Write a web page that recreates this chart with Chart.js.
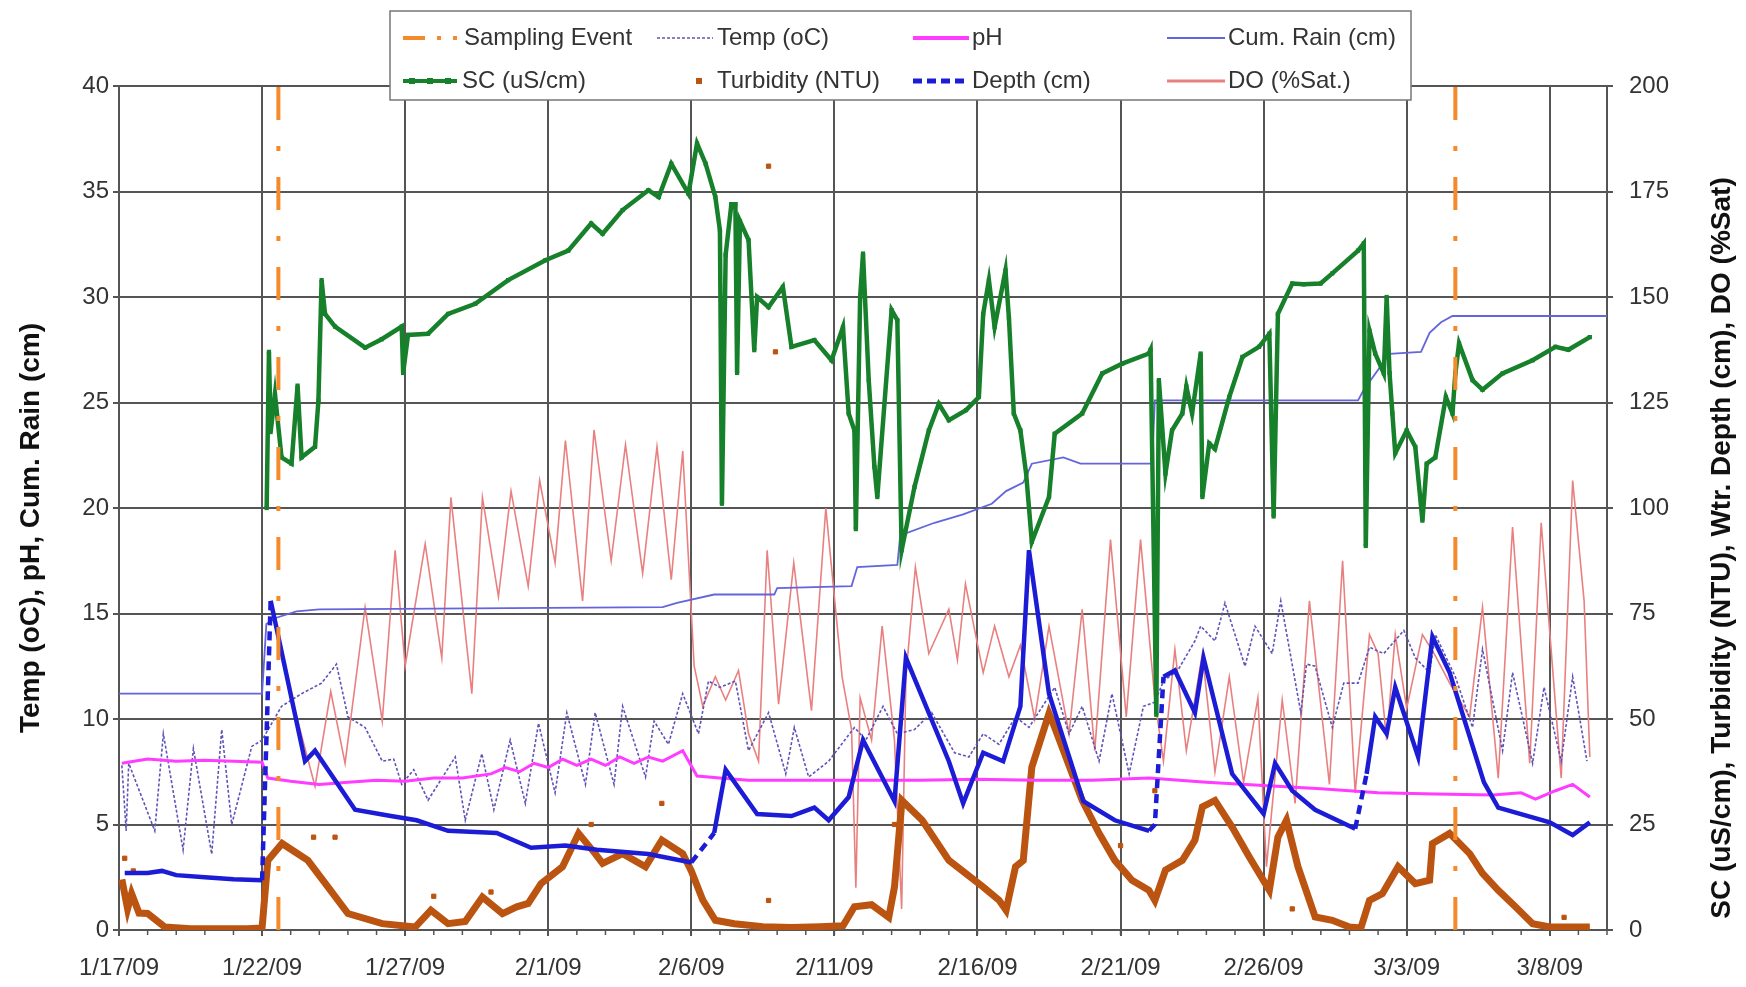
<!DOCTYPE html>
<html>
<head>
<meta charset="utf-8">
<script src="https://cdn.jsdelivr.net/npm/chart.js@4.4.1/dist/chart.umd.min.js"></script>
<style>
  body { margin: 0; background: #fff; }
  canvas { display: block; }
</style>
</head>
<body>
<canvas id="chart" width="1746" height="987"></canvas>
<script>
// days counted from 1/17/09
const tickDays = [0, 5, 10, 15, 20, 25, 30, 35, 40, 45, 50];
const tickLabels = ['1/17/09', '1/22/09', '1/27/09', '2/1/09', '2/6/09', '2/11/09', '2/16/09', '2/21/09', '2/26/09', '3/3/09', '3/8/09'];
const samplingDays = [5.57, 46.7];

// left axis series
const cumRain = [[0,11.2],[5.0,11.2],[5.15,14.5],[5.5,14.8],[6.2,15.1],[7.0,15.2],[19.0,15.3],[19.5,15.5],[20.8,15.9],[22.9,15.9],[23.0,16.2],[25.6,16.3],[25.8,17.2],[27.2,17.3],[27.3,18.7],[28.5,19.3],[29.5,19.7],[30.5,20.2],[31.0,20.8],[31.6,21.2],[31.9,22.1],[33.0,22.4],[33.6,22.1],[36.1,22.1],[36.2,25.1],[43.3,25.1],[43.5,25.6],[44.4,27.3],[45.5,27.4],[45.8,28.3],[46.2,28.8],[46.6,29.1],[52,29.1]];

const pH = [[0.1,7.9],[1.0,8.1],[2.0,8.0],[3.0,8.05],[4.0,8.0],[5.0,7.95],[5.2,7.2],[6.0,7.05],[7.0,6.9],[8.0,7.0],[9.0,7.1],[10.0,7.05],[11.0,7.2],[12.0,7.2],[13.0,7.4],[13.5,7.7],[14.0,7.5],[14.5,7.9],[15.0,7.7],[15.5,8.1],[16.0,7.8],[16.5,8.1],[17.0,7.8],[17.5,8.2],[18.0,7.9],[18.5,8.2],[19.0,8.0],[19.7,8.5],[20.2,7.3],[21.0,7.2],[22.0,7.1],[24.0,7.1],[26.0,7.1],[28.0,7.1],[30.0,7.15],[32.0,7.1],[34.0,7.1],[36.0,7.2],[38.0,7.0],[40.0,6.85],[42.0,6.7],[44.0,6.5],[46.0,6.45],[48.0,6.4],[49.0,6.5],[49.5,6.2],[50.2,6.6],[50.8,6.9],[51.4,6.3]];

const temp = [[0.1,7.8],[0.25,4.7],[0.34,7.9],[1.25,4.7],[1.55,9.3],[2.24,3.8],[2.6,8.6],[3.24,3.6],[3.59,9.5],[3.94,5.0],[4.64,8.7],[5.0,9.0],[5.68,10.6],[6.38,11.2],[7.08,11.7],[7.6,12.6],[8.0,10.1],[8.6,9.6],[9.2,8.0],[9.6,8.1],[9.88,6.9],[10.3,7.6],[10.8,6.15],[11.75,8.2],[12.1,5.2],[12.68,8.36],[13.1,5.7],[13.67,9.0],[14.2,6.0],[14.66,9.8],[15.24,6.5],[15.65,10.3],[16.3,6.9],[16.64,10.3],[17.3,6.9],[17.6,10.6],[18.4,7.25],[18.7,9.9],[19.2,8.8],[19.7,11.2],[20.25,9.3],[20.6,11.8],[21.0,11.5],[21.54,11.8],[22.0,8.5],[22.7,10.3],[23.3,7.4],[23.6,9.6],[24.1,7.25],[24.8,8.0],[25.7,9.6],[26.1,9.0],[26.7,10.6],[27.2,9.3],[27.8,9.5],[28.4,10.3],[29.2,8.4],[29.7,8.2],[30.2,9.3],[30.75,8.8],[31.33,10.1],[31.8,9.6],[32.7,11.5],[33.2,9.3],[33.66,10.6],[34.25,8.0],[34.7,11.2],[35.3,7.4],[35.8,10.6],[36.2,10.8],[36.5,11.8],[37.0,12.3],[37.6,13.7],[37.8,14.4],[38.3,13.7],[38.65,15.5],[39.35,12.5],[39.7,14.4],[40.3,13.1],[40.6,15.6],[41.3,10.3],[41.5,12.6],[41.8,12.5],[42.4,9.6],[42.8,11.7],[43.3,11.7],[43.7,13.4],[44.2,13.1],[44.9,14.2],[45.3,12.9],[45.8,12.2],[46.0,14.0],[46.7,12.0],[47.3,9.6],[47.65,13.3],[48.35,8.5],[48.7,12.2],[49.4,7.9],[49.8,11.5],[50.4,8.0],[50.8,12.0],[51.3,8.0]];

// right axis series
const sc = [[5.16,100],[5.24,137],[5.3,118],[5.45,127],[5.68,112],[6.03,110.5],[6.24,129],[6.38,112],[6.85,114.5],[6.97,125.5],[7.08,154],[7.2,146],[7.55,143],[8.6,138],[9.18,140],[9.88,143],[9.93,132],[10.1,141],[10.8,141.3],[11.5,146],[12.45,148.4],[13.6,154],[14.9,158.7],[15.7,161],[16.5,167.4],[16.9,165],[17.6,170.6],[18.5,175.3],[18.86,173.7],[19.3,181.6],[19.9,174.5],[20.2,186.4],[20.5,181.6],[20.84,173.7],[21.0,165.8],[21.07,101],[21.2,160],[21.4,172],[21.54,172],[21.6,132],[21.7,168],[22.0,163.5],[22.2,137.4],[22.3,150],[22.7,147.6],[23.2,152.4],[23.5,138.2],[24.3,139.8],[24.9,135],[25.3,142.9],[25.5,122.4],[25.7,118.4],[25.75,95],[25.9,150],[26.0,160.3],[26.2,130.3],[26.4,109.7],[26.5,102.6],[27.0,146.9],[27.2,144.5],[27.35,90],[27.8,105],[28.3,118.4],[28.65,124.7],[29.0,120.8],[29.6,123.2],[30.05,126.3],[30.2,146],[30.4,154],[30.6,142.9],[30.98,156.3],[31.1,145],[31.27,122.4],[31.5,118.4],[31.7,108.2],[31.9,92],[32.5,102.6],[32.7,117.6],[33.66,122.4],[34.36,131.9],[35.06,134.2],[35.99,136.6],[36.05,137.5],[36.25,51],[36.34,130.3],[36.57,108.2],[36.8,118.4],[37.16,122.4],[37.3,128.8],[37.5,122.4],[37.8,136.6],[37.86,102.6],[38.1,115.3],[38.3,114],[38.8,126.3],[39.26,135.8],[39.84,138.2],[40.2,141.3],[40.35,98],[40.5,146],[41.0,153.2],[41.4,153],[41.99,153.2],[42.4,155.6],[43.3,161],[43.5,162.7],[43.57,91],[43.7,142],[43.9,136.6],[44.2,131.9],[44.3,150],[44.4,132],[44.5,122.4],[44.6,113],[45.0,118.4],[45.3,114.5],[45.55,97],[45.7,110.5],[46.0,112],[46.37,126.3],[46.6,122.4],[46.7,131.9],[46.83,139],[47.3,130.3],[47.65,128],[48.35,131.9],[49.4,135],[50.2,138.2],[50.65,137.5],[51.4,140.5]];

const turbidity = [[0.1,12],[0.3,5],[0.44,8.6],[0.7,4],[1.0,3.9],[1.6,0.7],[2.5,0.3],[3.5,0.3],[4.5,0.3],[5.0,0.5],[5.2,16.5],[5.7,20.5],[5.9,19.6],[6.6,16.5],[7.3,10.2],[8.0,3.9],[9.2,1.5],[10.35,0.7],[10.9,4.7],[11.5,1.5],[12.1,2],[12.7,7.8],[13.4,3.9],[13.9,5.5],[14.3,6.3],[14.75,11],[15.5,15],[16.06,22.9],[16.64,18.1],[16.9,15.8],[17.6,18.1],[18.4,15],[18.97,21.3],[19.7,18.1],[20.0,14],[20.4,7.1],[20.84,2.3],[21.5,1.5],[22.5,0.8],[23.5,0.6],[24.5,0.8],[25.3,1],[25.7,5.5],[26.3,6],[26.9,3],[27.1,10.2],[27.36,30.7],[28.07,26],[29.0,16.5],[30.2,10.2],[30.75,7.1],[31.0,4.7],[31.33,15],[31.6,16.5],[31.9,38.6],[32.5,51.3],[32.7,48],[33.66,30.7],[34.25,22.9],[34.8,16.5],[35.4,11.8],[35.99,9.4],[36.2,7],[36.57,14.2],[37.16,16.5],[37.6,21.3],[37.86,29.2],[38.3,30.7],[38.9,24.4],[39.5,17.3],[40.2,9.4],[40.5,22],[40.8,26],[41.2,15],[41.8,3.1],[42.4,2.3],[43.0,0.7],[43.4,0.5],[43.7,7],[44.15,8.6],[44.7,15],[45.3,11],[45.8,11.8],[45.9,20.5],[46.5,22.9],[47.2,18.1],[47.65,13.4],[48.2,9.4],[48.8,5.5],[49.4,1.5],[50.0,0.7],[51.4,0.7]];
const turbidityScatter = [[0.2,17],[0.5,14],[6.8,22],[7.55,22],[11.0,8],[13.0,9],[16.5,25],[18.97,30],[22.7,7],[22.7,181],[22.94,137],[27.1,25],[35.0,20],[36.2,33],[41.0,5],[50.5,3]];

const depth = [[0.2,13.5],[1,13.5],[1.5,14],[2.0,13],[3,12.5],[4,12],[5.0,11.8],[5.3,78],[6.5,40],[6.85,42.5],[8.25,28.5],[9.5,27],[10.4,26],[11.5,23.5],[13.2,23],[14.4,19.5],[15.6,20],[16.7,19],[18.5,18],[20.0,16],[20.8,23],[21.2,38],[22.3,27.5],[23.5,27],[24.3,29],[24.8,26],[25.5,31.5],[26.0,45],[27.1,30.5],[27.5,64.5],[29.0,40],[29.5,30],[30.2,42],[30.9,40],[31.5,53],[31.8,90],[32.5,56],[33.7,30.5],[34.8,26],[36.0,23.5],[36.2,25],[36.5,60],[36.9,61.5],[37.6,51.5],[37.9,64.5],[38.9,37],[40.0,27.5],[40.4,39.5],[41.0,33],[41.8,28.5],[43.2,24],[43.6,37],[43.9,50.5],[44.3,46.5],[44.6,57.5],[45.4,41],[45.9,69.5],[46.5,61],[47.7,35],[48.2,29],[50.0,25.5],[50.8,22.5],[51.4,25.5]];
const depthGapStarts = [5.0, 20.0, 36.0, 36.2, 43.2];

const dissolvedO2 = [[5.9,58.5],[6.85,34],[7.4,56.5],[7.9,39.5],[8.6,76.5],[9.2,49.5],[9.65,90],[10.0,62.5],[10.7,91.5],[11.28,64.5],[11.6,102.5],[12.33,56],[12.7,102.5],[13.26,79],[13.7,104],[14.3,81.5],[14.7,106.5],[15.24,87],[15.6,116],[16.2,78],[16.6,118.5],[17.2,87.5],[17.7,115],[18.3,84.5],[18.8,114.5],[19.3,83],[19.7,113.5],[20.1,62.5],[20.4,53],[20.84,60],[21.2,54.5],[21.65,61.5],[22.0,46.5],[22.35,40],[22.65,90],[23.05,53.5],[23.58,87],[24.2,52],[24.7,100],[25.27,60],[25.6,47.5],[25.75,10],[25.9,55],[26.3,45],[26.67,72],[27.1,45],[27.35,5],[27.5,60],[27.83,86],[28.3,65.5],[29.0,76],[29.3,64],[29.58,82],[30.2,61],[30.6,72],[31.1,60],[31.5,67.5],[32.0,50],[32.5,72],[33.2,46.5],[33.66,76],[34.1,42.5],[34.65,92.5],[35.2,50.5],[35.7,92.5],[36.2,54.5],[36.5,40],[36.9,66.5],[37.3,42.5],[37.86,65.5],[38.3,37.5],[38.8,60],[39.3,35],[39.8,55],[40.1,15],[40.65,54.5],[41.1,30],[41.6,78],[42.3,34.5],[42.76,87.5],[43.2,32.5],[43.7,70],[44.0,65.5],[44.3,45],[44.6,70],[45.0,52.5],[45.55,70],[46.0,65],[46.5,58.5],[47.2,50.5],[47.65,76.5],[48.2,36],[48.7,95.5],[49.3,39.5],[49.7,96.5],[50.4,36],[50.8,106.5],[51.2,78],[51.4,41]];

const pts = arr => arr.map(([x, y]) => ({ x, y }));

const samplingPts = [];
samplingDays.forEach(d => {
  samplingPts.push({ x: d, y: 0 }, { x: d, y: 40 }, { x: d, y: null });
});

const FONT = '"Liberation Sans", Arial, sans-serif';
Chart.defaults.font.family = FONT;
Chart.defaults.font.size = 24;
Chart.defaults.color = '#222';

const C = {
  sampling: '#f48a2c',
  temp: '#5e54b8',
  ph: '#ff3cff',
  rain: '#6464dc',
  sc: '#17802b',
  turb: '#bb5410',
  depth: '#1c1cd6',
  dox: '#e98080'
};

// titles, day ticks and the legend are drawn by hand
const extras = {
  id: 'extras',
  afterDraw(chart) {
    const c = chart.ctx;
    const xs = chart.scales.x;
    const area = chart.chartArea;
    c.save();

    // small day ticks on the x axis
    c.strokeStyle = '#555';
    c.lineWidth = 1.5;
    for (let d = 0; d <= 52; d++) {
      const px = xs.getPixelForValue(d);
      c.beginPath();
      c.moveTo(px, area.bottom);
      c.lineTo(px, area.bottom + 5);
      c.stroke();
    }

    // axis titles
    c.fillStyle = '#111';
    c.font = 'bold 28px ' + FONT;
    c.textAlign = 'center';
    c.textBaseline = 'middle';
    c.save();
    c.translate(31, 528);
    c.rotate(-Math.PI / 2);
    c.fillText('Temp (oC), pH, Cum. Rain (cm)', 0, 0);
    c.restore();
    c.save();
    c.translate(1722, 548);
    c.rotate(-Math.PI / 2);
    c.fillText('SC (uS/cm), Turbidity (NTU), Wtr. Depth (cm), DO (%Sat)', 0, 0);
    c.restore();

    // legend box
    c.fillStyle = '#fff';
    c.fillRect(390, 11, 1021, 89);
    c.strokeStyle = '#777';
    c.lineWidth = 1.5;
    c.strokeRect(390, 11, 1021, 89);

    const line = (x1, x2, y, color, w, dash) => {
      c.save();
      c.strokeStyle = color;
      c.lineWidth = w;
      c.setLineDash(dash || []);
      c.beginPath();
      c.moveTo(x1, y);
      c.lineTo(x2, y);
      c.stroke();
      c.restore();
    };
    const text = (s, x, y) => {
      c.fillStyle = '#333';
      c.font = '24px ' + FONT;
      c.textAlign = 'left';
      c.textBaseline = 'middle';
      c.fillText(s, x, y);
    };
    const r1 = 38, r2 = 81;
    line(403, 457, r1, C.sampling, 4, [22, 12, 4, 12]);
    text('Sampling Event', 464, r1);
    line(657, 713, r1, C.temp, 1.5, [3, 2]);
    text('Temp (oC)', 717, r1);
    line(913, 969, r1, C.ph, 4);
    text('pH', 972, r1);
    line(1167, 1225, r1, C.rain, 2);
    text('Cum. Rain (cm)', 1228, r1);

    line(403, 457, r2, C.sc, 4);
    c.fillStyle = C.sc;
    [412, 430, 448].forEach(x => c.fillRect(x - 3, r2 - 3, 6, 6));
    text('SC (uS/cm)', 462, r2);
    c.fillStyle = C.turb;
    c.fillRect(696, r2 - 3, 6, 6);
    text('Turbidity (NTU)', 717, r2);
    line(913, 969, r2, C.depth, 5, [9, 5]);
    text('Depth (cm)', 972, r2);
    line(1167, 1225, r2, C.dox, 3);
    text('DO (%Sat.)', 1228, r2);

    c.restore();
  }
};

new Chart(document.getElementById('chart'), {
  type: 'line',
  data: {
    datasets: [
      {
        label: 'Sampling Event', data: samplingPts, yAxisID: 'y', order: 1,
        borderColor: C.sampling, borderWidth: 4, borderDash: [33, 26, 5, 26],
        pointRadius: 0, spanGaps: false
      },
      {
        label: 'SC (uS/cm)', data: pts(sc), yAxisID: 'y2', order: 2,
        borderColor: C.sc, backgroundColor: C.sc, borderWidth: 4.5,
        pointStyle: 'rect', pointRadius: 3, pointBorderWidth: 0
      },
      {
        label: 'Depth (cm)', data: pts(depth), yAxisID: 'y2', order: 3,
        borderColor: C.depth, borderWidth: 4.5, pointRadius: 0,
        segment: {
          borderDash: ctx => depthGapStarts.includes(ctx.p0.parsed.x) ? [9, 6] : undefined
        }
      },
      {
        label: 'pH', data: pts(pH), yAxisID: 'y', order: 4,
        borderColor: C.ph, borderWidth: 3, pointRadius: 0
      },
      {
        label: 'Temp (oC)', data: pts(temp), yAxisID: 'y', order: 5,
        borderColor: C.temp, borderWidth: 1.6, borderDash: [3, 2], pointRadius: 0
      },
      {
        label: 'Turbidity (NTU)', data: pts(turbidity), yAxisID: 'y2', order: 6,
        borderColor: C.turb, borderWidth: 7, pointRadius: 0
      },
      {
        label: 'Turbidity points', data: pts(turbidityScatter), yAxisID: 'y2', order: 6,
        showLine: false, backgroundColor: C.turb, borderColor: C.turb,
        pointStyle: 'rect', pointRadius: 3
      },
      {
        label: 'Cum. Rain (cm)', data: pts(cumRain), yAxisID: 'y', order: 7,
        borderColor: C.rain, borderWidth: 1.8, pointRadius: 0
      },
      {
        label: 'DO (%Sat.)', data: pts(dissolvedO2), yAxisID: 'y2', order: 8,
        borderColor: C.dox, borderWidth: 1.6, pointRadius: 0
      }
    ]
  },
  options: {
    responsive: false,
    animation: false,
    devicePixelRatio: 1,
    layout: { padding: { top: 86, left: 0, right: 0, bottom: 0 } },
    elements: { line: { tension: 0 } },
    plugins: { legend: { display: false }, tooltip: { enabled: false } },
    scales: {
      x: {
        type: 'linear', min: 0, max: 52,
        afterBuildTicks: s => { s.ticks = tickDays.map(v => ({ value: v })); },
        afterFit: s => { s.height = 57; },
        ticks: {
          callback: v => tickLabels[tickDays.indexOf(v)],
          maxRotation: 0, autoSkip: false, padding: 18, color: '#333'
        },
        grid: { color: '#555', lineWidth: 2, tickLength: 6 },
        border: { color: '#555', width: 2 }
      },
      y: {
        position: 'left', min: 0, max: 40,
        afterFit: s => { s.width = 119; },
        ticks: { stepSize: 5, padding: 4, color: '#333' },
        grid: { color: '#555', lineWidth: 2, tickLength: 6 },
        border: { color: '#555', width: 2 }
      },
      y2: {
        position: 'right', min: 0, max: 200,
        afterFit: s => { s.width = 139; },
        ticks: { stepSize: 25, padding: 16, color: '#333' },
        grid: { drawOnChartArea: false, color: '#555', lineWidth: 2, tickLength: 6 },
        border: { color: '#555', width: 2 }
      }
    }
  },
  plugins: [extras]
});
</script>
</body>
</html>
